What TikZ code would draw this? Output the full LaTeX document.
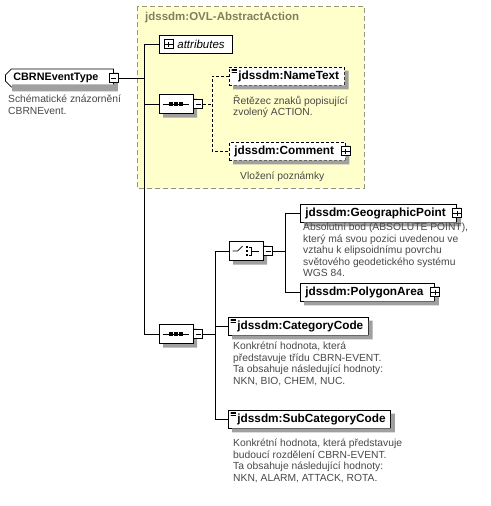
\documentclass[tikz,border=0pt]{standalone}
\usepackage{fontspec}
\setmainfont{Liberation Sans}
\usetikzlibrary{shapes.misc}
\definecolor{xsdcolor0000}{RGB}{255,255,204}
\definecolor{xsdcolor0001}{RGB}{150,150,118}
\definecolor{xsdcolor0002}{RGB}{128,128,96}
\definecolor{xsdcolor0003}{RGB}{160,160,160}
\definecolor{xsdcolor0004}{RGB}{72,72,72}
% right and bottom strip of a box shadow
\newcommand\boxshadow[1]{\fill[xsdcolor0003] ([shift={(0pt,4pt)}]#1.north east) rectangle ([shift={(4pt,4pt)}]#1.south east) ([shift={(4pt,0pt)}]#1.south west) rectangle ([shift={(4pt,4pt)}]#1.south east);}

\begin{document}
\begin{tikzpicture}[yscale=-1
,lbl/.style={font=\fontsize{11.8}{13}\selectfont\bfseries}
,elem/.style={draw=black,fill=white,line width=0.8pt,lbl,anchor=west,minimum height=18pt,inner xsep=5pt,inner ysep=0pt}
,opt/.style={dash pattern=on 3pt off 2pt}
,plusside/.style={execute at end node={\hspace{6pt}}}
,iconside/.style={execute at begin node={\hspace{4pt}}}
,btn/.style={draw=black,fill=white,line width=0.6pt,minimum size=9pt,inner sep=0pt}
,plusbtn/.style={btn,path picture={\draw[line width=0.6pt,shorten <=2pt,shorten >=2pt] (path picture bounding box.west) -- (path picture bounding box.east) (path picture bounding box.north) -- (path picture bounding box.south);}}
,minusbtn/.style={btn,path picture={\draw[line width=0.6pt,shorten <=2pt,shorten >=2pt] (path picture bounding box.west) -- (path picture bounding box.east);}}
,comp/.style={chamfered rectangle,chamfered rectangle xsep=5pt,chamfered rectangle ysep=6pt,draw=black,fill=white,line width=0.8pt,minimum width=34pt,minimum height=19pt,inner sep=0pt}
,compshadow/.style={comp,draw=none,fill=xsdcolor0003}
,conn/.style={line width=0.8pt}
,desc/.style={font=\fontsize{10.3}{11.5}\selectfont,text=xsdcolor0004,align=left,anchor=north west,inner sep=0pt,execute at begin node={\rule{0pt}{9.5pt}}}
]
\fill[white] (0pt,0pt) rectangle (490pt,506pt);
\useasboundingbox (0pt,0pt) rectangle (490pt,506pt);
% abstract action group
\draw[draw=xsdcolor0001,fill=xsdcolor0000,line width=0.8pt,dash pattern=on 5pt off 3pt] (137pt,6pt) rectangle (364pt,188pt);
\node[font=\fontsize{11.5}{13}\selectfont\bfseries,text=xsdcolor0002,anchor=west,inner sep=0pt] (grptitle) at (145pt,18pt) {jdssdm:OVL-AbstractAction};

% elements
\node[elem,font=\fontsize{10.8}{13}\selectfont\bfseries,chamfered rectangle,chamfered rectangle corners={north west,south west},chamfered rectangle sep=3pt,execute at end node={\hspace{7pt}}] (cbrn) at (5pt,78pt) {CBRNEventType};
\node[draw=black,fill=white,line width=0.8pt,anchor=west,minimum height=18pt,inner xsep=5pt,inner ysep=0pt,font=\fontsize{11.5}{13}\selectfont\itshape,execute at begin node={\hspace{13pt}},execute at end node={\hspace{3pt}}] (attr) at (159pt,44pt) {attributes};
\node[elem,opt,iconside] (nametext) at (229pt,76pt) {jdssdm:NameText};
\node[elem,opt,plusside] (comment) at (229pt,151pt) {jdssdm:Comment};
\node[elem,plusside] (geopoint) at (300pt,213pt) {jdssdm:GeographicPoint};
\node[elem,plusside] (polyarea) at (300pt,292pt) {jdssdm:PolygonArea};
\node[elem,iconside] (catcode) at (228pt,326pt) {jdssdm:CategoryCode};
\node[elem,iconside] (subcat) at (228pt,419pt) {jdssdm:SubCategoryCode};
\foreach \e in {cbrn,nametext,comment,geopoint,polyarea,catcode,subcat}
  \boxshadow{\e}
% simple content marks
\foreach \e in {nametext,catcode,subcat}
  \foreach \k in {0,1,2}
    \draw[line width=0.5pt] ([shift={(2.5pt,2.5pt+1.6*\k pt)}]\e.north west) -- ++(5pt,0);
% expand buttons
\node[minusbtn] (cbrnbtn) at (cbrn.east) {};
\node[plusbtn] (attrbtn) at ([xshift=9.5pt]attr.west) {};
\node[plusbtn] (commentbtn) at (comment.east) {};
\node[plusbtn] (geopointbtn) at (geopoint.east) {};
\node[plusbtn] (polyareabtn) at (polyarea.east) {};

% compositors
\node[compshadow] (seq1shadow) at (180pt,108pt) {};
\node[comp] (seq1) at (176pt,104pt) {};
\node[minusbtn,anchor=west] (seq1btn) at (seq1.east) {};
\node[compshadow] (seq2shadow) at (180pt,338pt) {};
\node[comp] (seq2) at (176pt,334pt) {};
\node[minusbtn,anchor=west] (seq2btn) at (seq2.east) {};
\node[compshadow] (choiceshadow) at (250pt,255pt) {};
\node[comp] (choice) at (246pt,251pt) {};
\node[minusbtn,anchor=west] (choicebtn) at (choice.east) {};
\foreach \s in {seq1,seq2}{
  \draw[line width=0.6pt] ([xshift=4pt]\s.west) -- ([xshift=-4pt]\s.east);
  \foreach \d in {-5,0,5}
    \fill ([xshift=\d pt]\s.center) +(-1.6pt,-1.6pt) rectangle +(1.6pt,1.6pt);
}
\draw[line width=0.6pt] ([xshift=4pt]choice.west) -- ++(5pt,0) -- ++(5pt,-5pt);
\foreach \d in {-4,0,4}
  \fill ([shift={(1pt,\d pt)}]choice.center) +(-1.4pt,-1.4pt) rectangle +(1.4pt,1.4pt);
\draw[line width=0.6pt] ([shift={(3pt,-4pt)}]choice.center) -- ++(2.5pt,0) -- ++(0,8pt) -- ++(-2.5pt,0);
\draw[line width=0.6pt] ([shift={(5.5pt,0pt)}]choice.center) -- ([xshift=-4pt]choice.east);

% connectors
\coordinate (trunk) at (144pt,0pt);
\coordinate (seqbus) at (212pt,0pt);
\coordinate (seqbus2) at (215pt,0pt);
\coordinate (choicebus) at (285pt,0pt);
\draw[conn] (cbrnbtn.east) -- (trunk |- cbrnbtn.east);
\draw[conn] (attr.west) -| (trunk |- seq2.west) -- (seq2.west);
\draw[conn] (seq1.west) -- (trunk |- seq1.west);
\draw[conn,opt] (seq1btn.east) -- (seqbus |- seq1btn.east);
\draw[conn,opt] (nametext.west) -| (seqbus |- comment.west) -- (comment.west);
\draw[conn] (seq2btn.east) -- (seqbus2 |- seq2btn.east);
\draw[conn] (choice.west) -| (seqbus2 |- subcat.west) -- (subcat.west);
\draw[conn] (catcode.west) -- (seqbus2 |- catcode.west);
\draw[conn] (choicebtn.east) -- (choicebus |- choicebtn.east);
\draw[conn] (geopoint.west) -| (choicebus |- polyarea.west) -- (polyarea.west);

% descriptions
\node[desc] (cbrndesc) at (8pt,95pt) {Schématické znázornění\\CBRNEvent.};
\node[desc] (nametextdesc) at (233pt,95pt) {Řetězec znaků popisující\\zvolený ACTION.};
\node[desc] (commentdesc) at (240pt,170pt) {Vložení poznámky};
\node[desc] (geopointdesc) at (303pt,223pt) {Absolutní bod (ABSOLUTE POINT),\\který má svou pozici uvedenou ve\\vztahu k elipsoidnímu povrchu\\světového geodetického systému\\WGS 84.};
\node[desc] (catcodedesc) at (233pt,342pt) {Konkrétní hodnota, která\\představuje třídu CBRN-EVENT.\\Ta obsahuje následující hodnoty:\\NKN, BIO, CHEM, NUC.};
\node[desc] (subcatdesc) at (233pt,439pt) {Konkrétní hodnota, která představuje\\budoucí rozdělení CBRN-EVENT.\\Ta obsahuje následující hodnoty:\\NKN, ALARM, ATTACK, ROTA.};
\end{tikzpicture}
\end{document}
